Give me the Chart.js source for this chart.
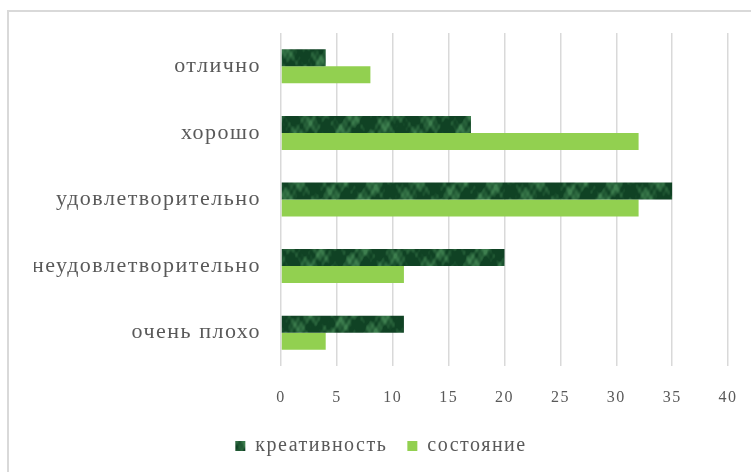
<!DOCTYPE html>
<html><head><meta charset="utf-8">
<script src="https://cdn.jsdelivr.net/npm/chart.js@4.4.1/dist/chart.umd.min.js"></script>
<style>
html,body{margin:0;padding:0;background:#fff;}
#wrap{position:relative;width:751px;height:472px;overflow:hidden;}
#frame{position:absolute;left:7px;top:10px;width:800px;height:500px;border:2px solid #d9d9d9;box-sizing:border-box;}
canvas{position:absolute;left:0;top:0;}
</style></head>
<body><div id="wrap"><div id="frame"></div><canvas id="c" width="751" height="472"></canvas></div>
<script>
const categories = ["отлично","хорошо","удовлетворительно","неудовлетворительно","очень плохо"];
const creativity = [4,17,35,20,11];
const condition = [8,32,32,11,4];
const seriesNames = ["креативность","состояние"];

function makePattern(){
  const W=120,H=48;
  const p=document.createElement('canvas');p.width=W;p.height=H;
  const g=p.getContext('2d');
  const img=g.createImageData(W,H);
  for(let y=0;y<H;y++){for(let x=0;x<W;x++){
    const a=2*Math.PI*x/W, b=2*Math.PI*y/H;
    let v=0.45*Math.sin(a*3+b+0.4*Math.sin(a*7+b*2))+0.3*Math.cos(a*5-b*2+1.3)+0.2*Math.sin(a*11+b*3+0.7)+0.15*Math.cos(a*17-b*4+2.1)+0.1*Math.sin(a*23+b*5);
    const t=Math.max(0,Math.min(1,(v+0.2)*0.9));
    const r=16+t*45, gg=66+t*60, bl=36+t*42;
    const i=(y*W+x)*4;
    img.data[i]=r;img.data[i+1]=gg;img.data[i+2]=bl;img.data[i+3]=255;
  }}
  g.putImageData(img,0,0);
  return document.getElementById('c').getContext('2d').createPattern(p,'repeat');
}
const dark=makePattern();
const serif="'Liberation Serif','DejaVu Serif',serif";
const spacing={id:'spacing',
  afterInit(c){c.ctx.letterSpacing='1.5px';},
  beforeUpdate(c){c.ctx.letterSpacing='1.5px';},
  beforeDraw(c){c.ctx.letterSpacing='1.5px';}};

new Chart(document.getElementById('c'),{
  type:'bar',
  data:{labels:categories,datasets:[
    {label:seriesNames[0],data:creativity,backgroundColor:dark,borderWidth:0},
    {label:seriesNames[1],data:condition,backgroundColor:'#92d050',borderWidth:0}
  ]},
  plugins:[spacing],
  options:{
    indexAxis:'y',responsive:false,animation:false,
    datasets:{bar:{barPercentage:1,categoryPercentage:0.51}},
    layout:{padding:{left:34,right:23,top:33,bottom:6}},
    scales:{
      x:{min:0,max:40,ticks:{stepSize:5,padding:22,color:'#595959',font:{family:serif,size:16}},
         grid:{color:'#d9d9d9',lineWidth:1.5,drawTicks:false},border:{display:false},
         afterFit:s=>{s.height=50;s.paddingRight=0;s.paddingLeft=0;}},
      y:{ticks:{padding:12,color:'#595959',font:{family:serif,size:22}},
         grid:{display:false},border:{display:false},
         afterFit:s=>{s.width=247;}}
    },
    plugins:{
      legend:{position:'bottom',labels:{boxWidth:10,boxHeight:10,padding:20,color:'#595959',font:{family:serif,size:20}}},
      tooltip:{enabled:false}
    }
  }
});
</script></body></html>
